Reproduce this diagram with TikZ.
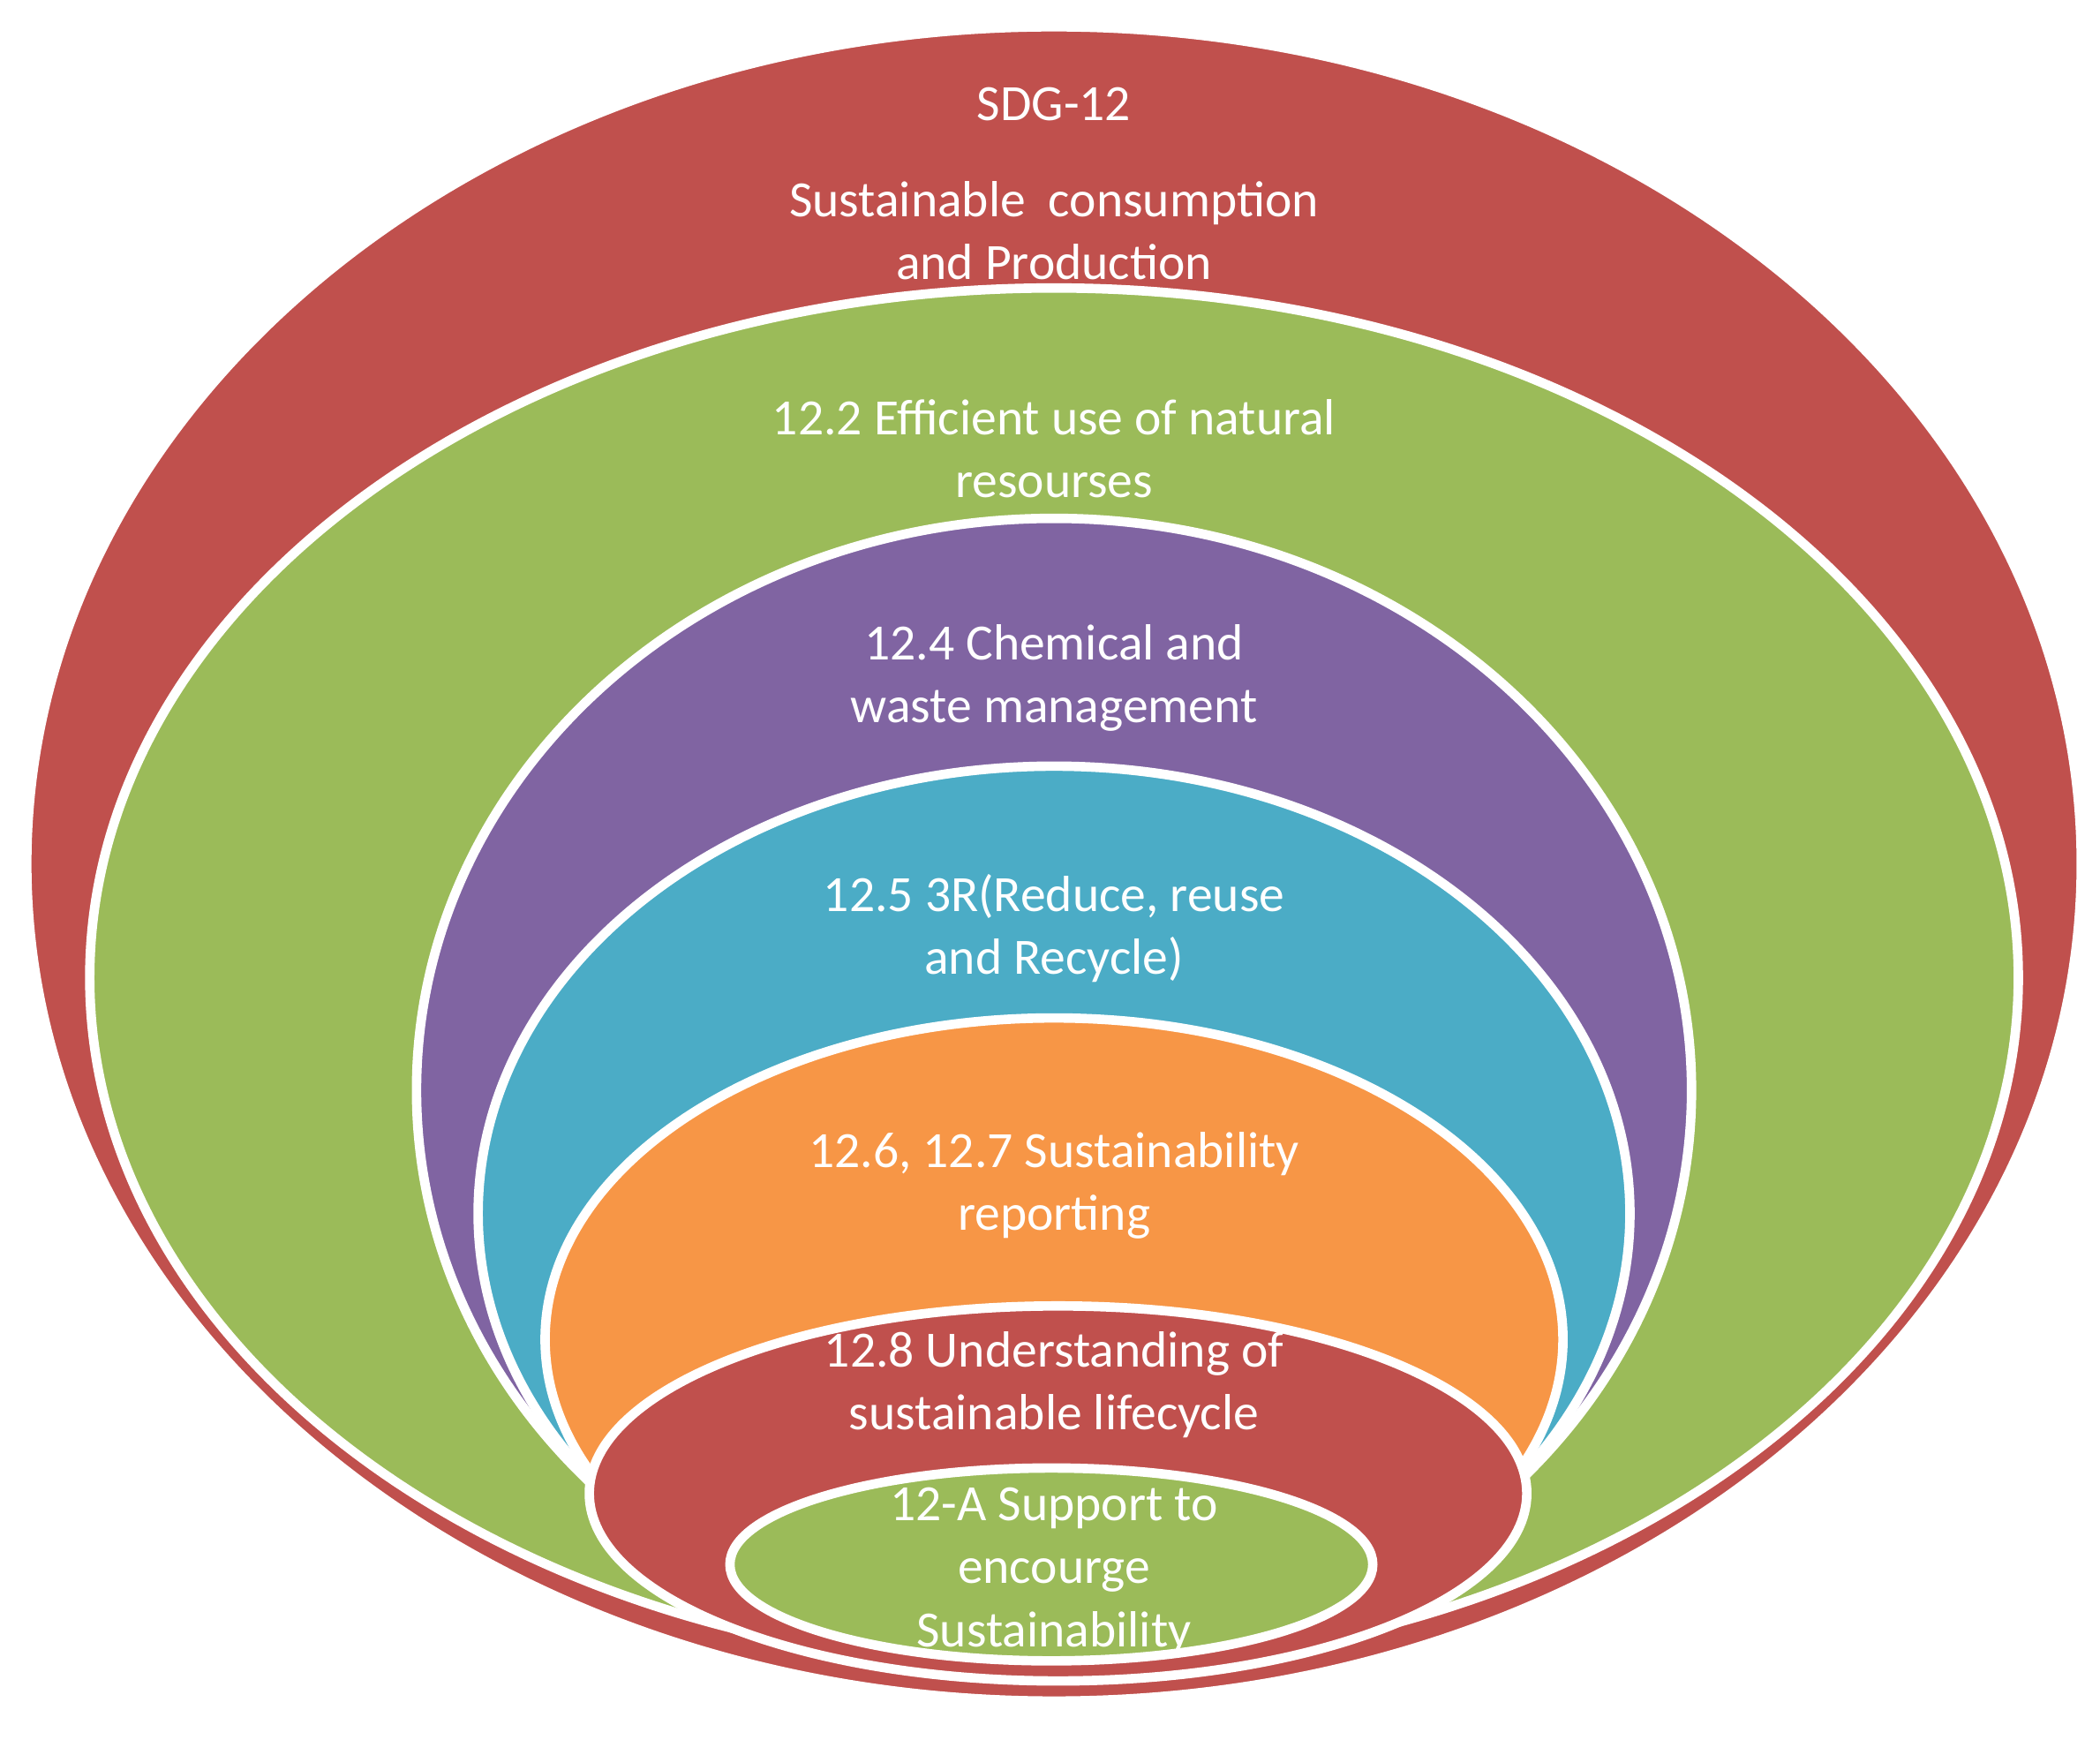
\documentclass[tikz,border=0pt]{standalone}
\usepackage{fontspec}
\setmainfont{Carlito}
\definecolor{cred}{HTML}{C0504D}
\definecolor{cgreen}{HTML}{9BBB59}
\definecolor{cpurple}{HTML}{8064A2}
\definecolor{cblue}{HTML}{4BACC6}
\definecolor{corange}{HTML}{F79646}
\begin{document}
\begin{tikzpicture}[x=0.05cm,y=-0.05cm,
  ring/.style={draw=white,line width=10pt},
  lbl/.style={text=white,align=center,font=\fontsize{54}{67}\selectfont}]
\useasboundingbox (0,0) rectangle (1568,1299);
\fill[white] (0,0) rectangle (1568,1299);
\filldraw[ring,fill=cred] (787,645) ellipse [x radius=767,y radius=625];
\filldraw[ring,fill=cgreen] (787,730) ellipse [x radius=720,y radius=515];
\filldraw[ring,fill=cpurple] (787,814) ellipse [x radius=476,y radius=427];
\filldraw[ring,fill=cblue] (787,906) ellipse [x radius=430,y radius=334];
\filldraw[ring,fill=corange] (787,1000) ellipse [x radius=380,y radius=240];
\filldraw[ring,fill=cred] (790,1115) ellipse [x radius=350,y radius=140];
\filldraw[ring,fill=cgreen] (785,1168) ellipse [x radius=240,y radius=72];
\node[lbl] (t0) at (787,78) {SDG-12};
\node[lbl] (t1) at (787,172) {Sustainable\ \ consumption\\and Production};
\node[lbl] (t2) at (787,335) {12.2 Efficient use of natural\\resourses};
\node[lbl] (t3) at (787,506) {12.4 Chemical and\\waste management};
\node[lbl] (t4) at (787,693) {12.5 3R(Reduce, reuse\\and Recycle)};
\node[lbl] (t5) at (787,885) {12.6, 12.7 Sustainability\\reporting};
\node[lbl] (t6) at (787,1034) {12.8 Understanding of\\sustainable lifecycle};
\node[lbl] (t7) at (787,1173) {12-A Support to\\encourge\\Sustainability};
\end{tikzpicture}
\end{document}
